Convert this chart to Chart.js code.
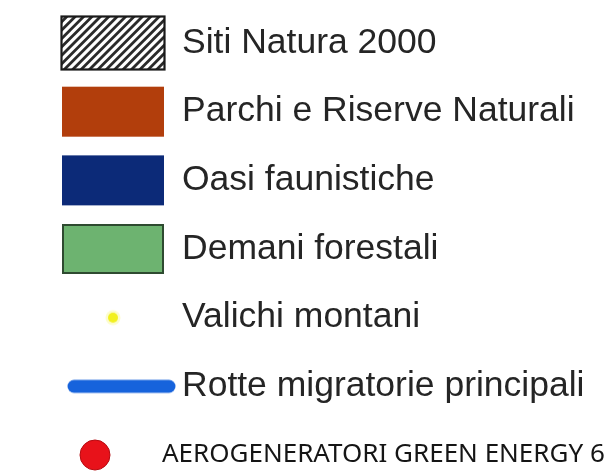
<!DOCTYPE html>
<html>
<head>
<meta charset="utf-8">
<script src="https://cdn.jsdelivr.net/npm/chart.js@4/dist/chart.umd.min.js"></script>
<style>
  html, body { margin: 0; padding: 0; background: #ffffff; }
  #wrap { width: 606px; height: 471px; position: relative; }
</style>
</head>
<body>
<div id="wrap"><canvas id="legendChart"></canvas></div>
<script>
// legend rows, top to bottom
var legendLabels = [
  "Siti Natura 2000",
  "Parchi e Riserve Naturali",
  "Oasi faunistiche",
  "Demani forestali",
  "Valichi montani",
  "Rotte migratorie principali",
  "AEROGENERATORI GREEN ENERGY 6"
];
var legendKinds = ["hatch", "box", "box", "box", "dot", "line", "circle"];
var legendColors = ["#ffffff", "#b23e0c", "#0c2a78", "#6db370", "#f2f01e", "#1663dc", "#e8121a"];

// small helper to build a canvas used as pointStyle
function makeSwatch(w, h, draw) {
  var c = document.createElement("canvas");
  c.width = w;
  c.height = h;
  draw(c.getContext("2d"), w, h);
  return c;
}

function swatchFor(kind, color) {
  if (kind === "hatch") {
    return makeSwatch(106, 56, function (g, w, h) {
      g.fillStyle = "#ffffff";
      g.fillRect(1, 1, w - 2, h - 2);
      g.save();
      g.beginPath();
      g.rect(2, 2, w - 4, h - 4);
      g.clip();
      g.strokeStyle = "#2a2a2a";
      g.lineWidth = 2.8;
      for (var x = -h; x < w + h; x += 8.4) {
        g.beginPath();
        g.moveTo(x, h);
        g.lineTo(x + h, 0);
        g.stroke();
      }
      g.restore();
      g.strokeStyle = "#1a1a1a";
      g.lineWidth = 2.2;
      g.strokeRect(1.5, 1.5, w - 3, h - 3);
    });
  }
  if (kind === "box") {
    var border = color === "#6db370" ? "#2e4a30" : color;
    return makeSwatch(104, 52, function (g, w, h) {
      g.fillStyle = color;
      g.fillRect(1, 1, w - 2, h - 2);
      g.strokeStyle = border;
      g.lineWidth = 2;
      g.strokeRect(2, 2, w - 4, h - 4);
    });
  }
  if (kind === "dot") {
    return makeSwatch(20, 20, function (g, w, h) {
      g.fillStyle = "rgba(250, 250, 170, 0.6)";
      g.beginPath();
      g.arc(10, 10, 7.5, 0, Math.PI * 2);
      g.fill();
      g.fillStyle = color;
      g.beginPath();
      g.arc(10, 10, 5, 0, Math.PI * 2);
      g.fill();
    });
  }
  if (kind === "line") {
    // line runs a bit right of the common swatch centre
    return makeSwatch(142, 24, function (g, w, h) {
      g.strokeStyle = color;
      g.lineWidth = 13;
      g.lineCap = "round";
      g.beginPath();
      g.moveTo(32, 12);
      g.lineTo(127, 12);
      g.stroke();
    });
  }
  // red circle sits left of the swatch centre
  return makeSwatch(80, 40, function (g, w, h) {
    g.fillStyle = color;
    g.beginPath();
    g.arc(22, 20, 15, 0, Math.PI * 2);
    g.fill();
    g.strokeStyle = "#b50a10";
    g.lineWidth = 1;
    g.stroke();
  });
}

var swatches = legendLabels.map(function (lbl, i) {
  return swatchFor(legendKinds[i], legendColors[i]);
});

// draws the label text to the right of each swatch
var rowText = {
  id: "rowText",
  afterDatasetsDraw: function (chart, args, opts) {
    var g = chart.ctx;
    var ys = chart.scales.y;
    g.save();
    g.textBaseline = "middle";
    g.textAlign = "left";
    legendLabels.forEach(function (lbl, i) {
      var last = i === legendLabels.length - 1;
      g.font = last ? opts.lastFont : opts.font;
      g.fillStyle = last ? "#151515" : "#252525";
      g.fillText(lbl, last ? opts.lastX : opts.x, ys.getPixelForValue(i));
    });
    g.restore();
  }
};

var ctx = document.getElementById("legendChart").getContext("2d");
var myChart = new Chart(ctx, {
  type: "scatter",
  plugins: [rowText],
  data: {
    datasets: [
      {
        data: legendLabels.map(function (lbl) {
          return { x: 0, y: lbl };
        }),
        pointStyle: swatches,
        pointRadius: 10,
        clip: false
      }
    ]
  },
  options: {
    responsive: true,
    maintainAspectRatio: false,
    animation: false,
    events: [],
    layout: {
      padding: { left: 0, right: 391, top: 43, bottom: 16 }
    },
    scales: {
      x: { type: "linear", min: -1, max: 1, display: false },
      y: { type: "category", labels: legendLabels, offset: false, display: false }
    },
    plugins: {
      legend: { display: false },
      tooltip: { enabled: false },
      rowText: {
        font: "35.5px 'Liberation Sans', Arial, sans-serif",
        x: 182,
        lastFont: "26px 'Noto Sans', sans-serif",
        lastX: 162
      }
    }
  }
});
</script>
</body>
</html>
